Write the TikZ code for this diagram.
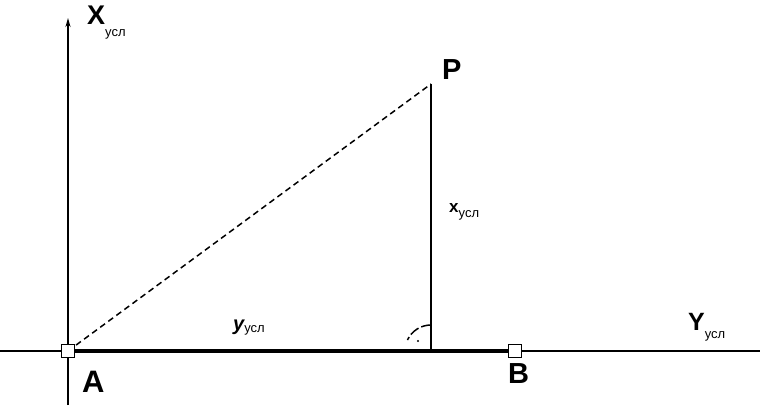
\documentclass[tikz,border=0pt]{standalone}
\usepackage{fontspec}
\setmainfont{Liberation Sans}
\usetikzlibrary{arrows.meta}
\tikzset{
  thinline/.style={line width=1.8pt},
  thickline/.style={line width=4.5pt},
  dashline/.style={line width=1.5pt, dash pattern=on 6pt off 4pt},
  pointbox/.style={draw, line width=1.5pt, fill=white, minimum size=13pt, inner sep=0pt},
  lbl/.style={anchor=base west, inner sep=0pt, font=\bfseries},
}
\newcommand{\sizedtxt}[2]{{\fontsize{#1}{#1}\selectfont #2}}
\newcommand{\subsc}[2]{\raisebox{-#1pt}{\fontsize{13}{13}\selectfont\mdseries #2}}
\begin{document}
\begin{tikzpicture}[x=1pt,y=1pt]
\useasboundingbox (0,0) rectangle (760,405);
% points
\coordinate (A) at (68,54);
\coordinate (B) at (515,54);
\coordinate (P) at (431,321);
\coordinate (F) at (431,54);
\coordinate (xtop) at (68,387);
\coordinate (xbot) at (68,0);
\coordinate (yl) at (0,54);
\coordinate (yr) at (760,54);
% axes
\draw[thinline, -{Stealth[length=9pt,width=5pt]}] (xbot) -- (xtop);
\draw[thinline] (yl) -- (yr);
% segment AB
\draw[thickline] (A) -- (B);
% perpendicular
\draw[thinline] (P) -- (F);
% dashed AP
\draw[dashline] (A) -- (P);
% right angle mark
\draw[line width=1.5pt, dash pattern=on 10pt off 3pt] (431,80) arc[start angle=90, end angle=155, radius=26];
\fill (418,64) circle (1.2pt);
% point boxes
\node[pointbox] (Abox) at (A) {};
\node[pointbox] (Bbox) at (B) {};
% labels
\node[lbl] (lX) at (87,380) {\sizedtxt{27}{X}\subsc{12}{усл}};
\node[lbl] (lP) at (442,325) {\sizedtxt{29}{P}};
\node[lbl] (lx) at (449,193) {\sizedtxt{17}{x}\subsc{5}{усл}};
\node[lbl] (ly) at (233,75) {\sizedtxt{20}{\itshape y}\subsc{2}{усл}};
\node[lbl] (lY) at (688,75) {\sizedtxt{25}{Y}\subsc{8}{усл}};
\node[lbl] (lA) at (82,13) {\sizedtxt{31}{A}};
\node[lbl] (lB) at (508,22) {\sizedtxt{29}{B}};
\end{tikzpicture}
\end{document}
